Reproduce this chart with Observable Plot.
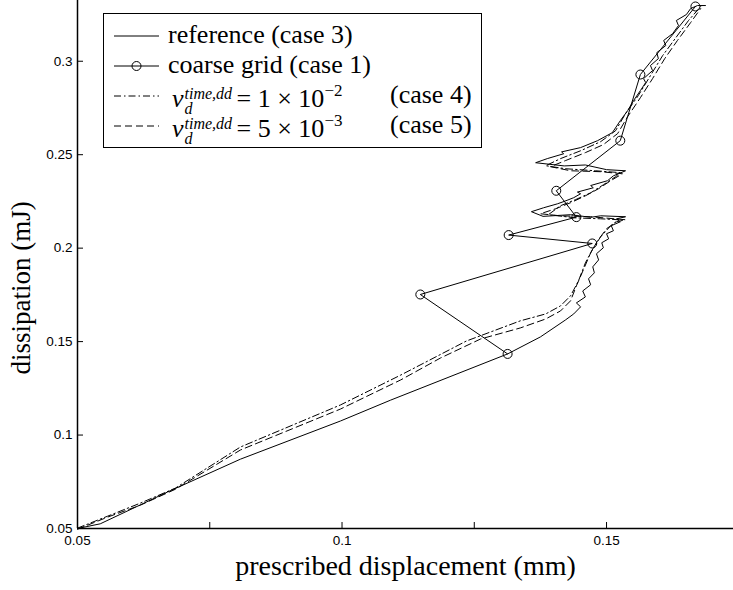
<!DOCTYPE html>
<html><head><meta charset="utf-8">
<script src="https://cdn.jsdelivr.net/npm/d3@7"></script>
<script src="https://cdn.jsdelivr.net/npm/@observablehq/plot@0.6"></script>
<style>
body{margin:0;background:#fff;}
#wrap{position:relative;width:733px;height:590px;}
#legend{position:absolute;left:103px;top:13px;width:377px;height:133px;border:1px solid #000;background:#fff;font-family:"Liberation Serif",serif;font-size:26px;color:#000;}
.sample{position:absolute;left:9px;}
.lbl{position:absolute;left:64px;white-space:nowrap;line-height:28px;}
.case{position:absolute;left:286px;white-space:nowrap;line-height:28px;}
.nu{margin-left:4px;}
.ss{position:relative;display:inline-block;width:53px;height:26px;}
.sp{position:absolute;left:1px;top:5.5px;font-size:16px;font-style:italic;line-height:13px;}
.sb{position:absolute;left:1px;top:20.5px;font-size:16px;font-style:italic;line-height:13px;}
.ex{font-size:17px;position:relative;top:-11px;line-height:13px;}
</style>
</head><body>
<div id="wrap"></div>
<script>
// reference (case 3): [displacement mm, dissipation mJ]
const reference = [
[0.0500,0.0500],[0.0543,0.0525],[0.0620,0.0628],[0.0670,0.0695],[0.0808,0.0871],[0.0997,0.1075],
[0.1092,0.1187],[0.1313,0.1434],[0.1375,0.1525],[0.1422,0.1615],[0.1438,0.1648],[0.1451,0.1686],
[0.1443,0.1707],[0.1460,0.1739],[0.1455,0.1771],[0.1470,0.1804],[0.1466,0.1836],[0.1477,0.1868],
[0.1474,0.1900],[0.1485,0.1937],[0.1481,0.1970],[0.1494,0.2002],[0.1491,0.2029],[0.1504,0.2050],
[0.1500,0.2077],[0.1513,0.2093],[0.1509,0.2120],[0.1526,0.2141],[0.1519,0.2157],[0.1536,0.2168],
[0.1489,0.2173],[0.1470,0.2165],[0.1432,0.2179],[0.1380,0.2170],[0.1358,0.2195],
[0.1381,0.2216],[0.1407,0.2237],[0.1420,0.2250],[0.1438,0.2270],[0.1451,0.2291],[0.1445,0.2300],
[0.1475,0.2323],[0.1470,0.2335],[0.1502,0.2361],[0.1513,0.2387],[0.1536,0.2414],
[0.1500,0.2420],[0.1460,0.2445],[0.1420,0.2440],[0.1366,0.2457],
[0.1388,0.2479],[0.1419,0.2505],[0.1415,0.2515],[0.1451,0.2538],[0.1483,0.2575],[0.1511,0.2618],
[0.1526,0.2682],[0.1540,0.2736],[0.1551,0.2789],[0.1564,0.2843],[0.1574,0.2886],[0.1570,0.2907],
[0.1587,0.2950],[0.1583,0.2977],[0.1598,0.3014],[0.1595,0.3046],[0.1612,0.3084],[0.1608,0.3111],
[0.1625,0.3148],[0.1636,0.3191],[0.1632,0.3218],[0.1651,0.3250],[0.1659,0.3282],[0.1672,0.3298],[0.1687,0.3298]
];
// coarse grid (case 1)
const coarse = [
[0.1313,0.1434],[0.1148,0.1752],[0.1473,0.2025],[0.1315,0.2070],[0.1443,0.2166],
[0.1405,0.2307],[0.1526,0.2575],[0.1564,0.2929],[0.1668,0.3293]
];
// nu = 1e-2 (case 4)
const case4 = [
[0.0500,0.0502],[0.0557,0.0566],[0.0619,0.0636],[0.0685,0.0716],[0.0808,0.0936],[0.0997,0.1161],
[0.1111,0.1321],[0.1235,0.1503],[0.1337,0.1611],[0.1385,0.1648],[0.1413,0.1691],[0.1432,0.1745],
[0.1447,0.1825],[0.1460,0.1921],[0.1474,0.1996],[0.1489,0.2061],[0.1508,0.2120],[0.1523,0.2152],
[0.1489,0.2157],[0.1441,0.2162],[0.1390,0.2179],[0.1413,0.2227],[0.1441,0.2259],[0.1470,0.2296],
[0.1494,0.2339],[0.1517,0.2382],[0.1526,0.2404],[0.1479,0.2414],[0.1422,0.2425],[0.1385,0.2441],
[0.1413,0.2479],[0.1451,0.2521],[0.1489,0.2570],[0.1517,0.2628],[0.1536,0.2720],[0.1560,0.2816],
[0.1583,0.2923],[0.1606,0.3030],[0.1630,0.3122],[0.1655,0.3218],[0.1678,0.3293]
];
// nu = 5e-3 (case 5)
const case5 = [
[0.0500,0.0496],[0.0557,0.0561],[0.0619,0.0625],[0.0685,0.0710],[0.0808,0.0920],[0.0997,0.1139],
[0.1111,0.1295],[0.1186,0.1412],[0.1262,0.1514],[0.1337,0.1573],[0.1385,0.1621],[0.1413,0.1664],
[0.1432,0.1718],[0.1443,0.1798],[0.1457,0.1889],[0.1470,0.1975],[0.1483,0.2039],[0.1500,0.2104],
[0.1519,0.2141],[0.1536,0.2152],[0.1470,0.2168],[0.1413,0.2173],[0.1375,0.2184],[0.1404,0.2211],
[0.1432,0.2243],[0.1460,0.2280],[0.1485,0.2318],[0.1508,0.2361],[0.1530,0.2398],[0.1489,0.2409],
[0.1432,0.2414],[0.1394,0.2436],[0.1422,0.2468],[0.1460,0.2511],[0.1494,0.2554],[0.1521,0.2613],
[0.1540,0.2704],[0.1564,0.2805],[0.1587,0.2907],[0.1610,0.3014],[0.1634,0.3111],[0.1659,0.3207],[0.1678,0.3282]
];
const xTicks = [0.05,0.075,0.1,0.125,0.15,0.175];
const xTickLabels = [0.05,0.1,0.15];
const yTicks = [0.05,0.1,0.15,0.2,0.25,0.3];
const xTitle = "prescribed displacement (mm)";
const yTitle = "dissipation (mJ)";

const chart = Plot.plot({
  width: 733, height: 590,
  marginLeft: 77, marginRight: 0, marginTop: 0, marginBottom: 62,
  x: {domain: [0.05, 0.174]},
  y: {domain: [0.05, 0.3325]},
  style: {fontFamily: "'Liberation Sans', Arial, sans-serif", fontSize: "13.5px", background: "#fff", color: "#000", overflow: "visible"},
  marks: [
    Plot.axisX(xTicks, {tickSize: -6, tickPadding: 13, tickFormat: d => xTickLabels.includes(d) ? String(d) : "", label: null, stroke: "#000", fill: "#000"}),
    Plot.axisY(yTicks, {tickSize: -6, tickPadding: 11, tickFormat: d => String(d), label: null, stroke: "#000", fill: "#000"}),
    Plot.line(case4, {x: d => d[0], y: d => d[1], stroke: "#000", strokeWidth: 1, strokeDasharray: "7,3,1.5,3"}),
    Plot.line(case5, {x: d => d[0], y: d => d[1], stroke: "#000", strokeWidth: 1, strokeDasharray: "7,4"}),
    Plot.line(reference, {x: d => d[0], y: d => d[1], stroke: "#000", strokeWidth: 1}),
    Plot.line(coarse, {x: d => d[0], y: d => d[1], stroke: "#000", strokeWidth: 1}),
    Plot.dot(coarse, {x: d => d[0], y: d => d[1], r: 4.5, stroke: "#000", fill: "none", strokeWidth: 1}),
    Plot.ruleX([0.05], {stroke: "#000", strokeWidth: 1.5}),
    Plot.ruleY([0.05], {stroke: "#000", strokeWidth: 1.5}),
    Plot.text([xTitle], {text: d => d, frameAnchor: "bottom", dy: 38, lineAnchor: "middle", fontSize: 28, fontFamily: "'Liberation Serif', serif", fill: "#000"}),
    Plot.text([yTitle], {text: d => d, frameAnchor: "left", dx: -56, dy: 110, rotate: -90, lineAnchor: "middle", fontSize: 27, fontFamily: "'Liberation Serif', serif", fill: "#000"})
  ]
});
const wrap = document.getElementById("wrap");
wrap.appendChild(chart);

const legendRows = [
  {label: "reference (case 3)", dash: null, marker: false},
  {label: "coarse grid (case 1)", dash: null, marker: true},
  {label: null, exp: "1 × 10", pow: "−2", cse: "(case 4)", dash: "7,3,1.5,3", marker: false},
  {label: null, exp: "5 × 10", pow: "−3", cse: "(case 5)", dash: "7,4", marker: false}
];
const leg = document.createElement("div");
leg.id = "legend";
const centers = [22, 52, 82, 112];
legendRows.forEach((r, i) => {
  const c = centers[i];
  const s = document.createElementNS("http://www.w3.org/2000/svg", "svg");
  s.setAttribute("class", "sample");
  s.setAttribute("width", 48); s.setAttribute("height", 14);
  s.style.top = (c - 7) + "px";
  s.innerHTML = `<line x1="1" x2="46" y1="7" y2="7" stroke="#000" stroke-width="1" ${r.dash ? `stroke-dasharray="${r.dash}"` : ""}/>` +
    (r.marker ? `<circle cx="23.5" cy="7" r="4.5" fill="none" stroke="#000"/>` : "");
  leg.appendChild(s);
  const t = document.createElement("div");
  t.className = "lbl";
  t.style.top = (c - 15) + "px";
  if (r.label) t.textContent = r.label;
  else t.innerHTML = `<i class="nu">ν</i><span class="ss"><span class="sp">time,dd</span><span class="sb">d</span></span>= ${r.exp}<span class="ex">${r.pow}</span>`;
  leg.appendChild(t);
  if (r.cse) {
    const k = document.createElement("div");
    k.className = "case";
    k.style.top = (c - 15) + "px";
    k.textContent = r.cse;
    leg.appendChild(k);
  }
});
wrap.appendChild(leg);
</script>
</body></html>
